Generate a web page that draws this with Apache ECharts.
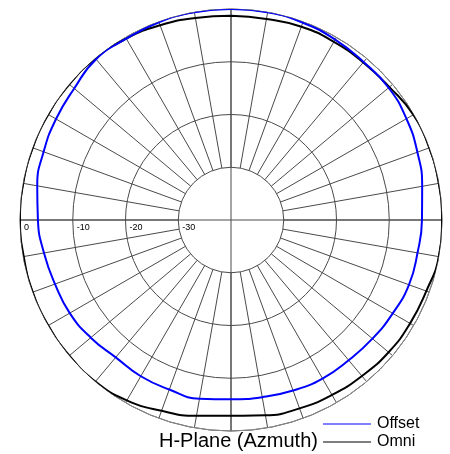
<!DOCTYPE html>
<html>
<head>
<meta charset="utf-8">
<script src="https://cdn.jsdelivr.net/npm/echarts@6/dist/echarts.min.js"></script>
<style>
  html, body { margin: 0; padding: 0; background: #fff; }
  #chart { width: 450px; height: 454px; }
</style>
</head>
<body>
<div id="chart"></div>
<script>
// bearings in degrees, 0 = top, clockwise
var angles = [0, 10, 20, 30, 40, 50, 60, 70, 80, 90, 100, 110, 120, 130, 140, 150, 160, 170,
              180, 190, 200, 210, 220, 230, 240, 250, 260, 270, 280, 290, 300, 310, 320, 330, 340, 350];
// gain in dB
var omni = [-1.3, -1.3, -1.0, -1.0, -1.0, -0.8, -0.1, 0, 0, 0, 0, -0.6, -0.8, -1.0, -1.4, -1.7, -2.0, -2.4,
            -2.9, -2.3, -1.5, -0.5, 0, 0, 0, 0, -0.1, 0, 0, 0, 0, 0, 0, -0.3, -0.7, -1.1];
var offset = [0, 0, -0.2, -0.5, -0.9, -1.0, -1.6, -2.4, -3.2, -3.8, -4.1, -4.1, -4.6, -5.0, -5.3, -5.3, -5.6, -5.9,
              -6.0, -5.6, -5.8, -5.8, -6.0, -5.3, -4.7, -4.5, -4.0, -3.4, -2.7, -2.2, -1.7, -1.2, -0.2, -0.3, -0.1, 0];
var ringLabels = ['-30', '-20', '-10', '0'];

function toPolar(vals) {
    var out = [];
    for (var i = 0; i < angles.length; i++) {
        out.push([vals[i], angles[i]]);
    }
    out.push([vals[0], 360]);
    return out;
}

var gridColor = '#4a4a4a';
var chart = echarts.init(document.getElementById('chart'));

chart.setOption({
    animation: false,
    backgroundColor: '#fff',
    polar: [
        { center: [231, 220], radius: [52.75, 211] },
        { center: [231, 220], radius: [0, 211] }
    ],
    angleAxis: [
        {
            polarIndex: 0, type: 'value', min: 0, max: 360, interval: 10, startAngle: 180,
            axisLine: { show: false }, axisTick: { show: false }, axisLabel: { show: false },
            splitLine: { show: true, lineStyle: { color: gridColor, width: 1 } }
        },
        {
            polarIndex: 1, type: 'value', min: 0, max: 360, interval: 90, startAngle: 90, clockwise: true,
            axisLine: { show: true, lineStyle: { color: '#888', width: 1 } },
            axisTick: { show: false }, axisLabel: { show: false },
            splitLine: { show: true, lineStyle: { color: gridColor, width: 1 } }
        }
    ],
    radiusAxis: [
        {
            polarIndex: 0, type: 'value', min: -30, max: 0, interval: 10,
            axisLine: { show: false }, axisTick: { show: false },
            axisLabel: {
                show: true, fontSize: 9, color: '#000', fontFamily: 'Liberation Sans',
                align: 'left', verticalAlign: 'top', margin: 3, padding: [0, 0, 0, 4],
                formatter: function (v) { return ringLabels[(v + 30) / 10]; }
            },
            splitLine: { show: true, lineStyle: { color: gridColor, width: 1 } }
        },
        {
            polarIndex: 1, type: 'value', min: -40, max: 0,
            axisLine: { show: false }, axisTick: { show: false }, axisLabel: { show: false },
            splitLine: { show: false }
        }
    ],
    title: {
        text: 'H-Plane (Azmuth)',
        left: 159, top: 431,
        padding: 0,
        textStyle: { fontSize: 20, fontWeight: 'normal', color: '#000', fontFamily: 'Liberation Sans' }
    },
    legend: {
        data: ['Offset', 'Omni'],
        orient: 'vertical',
        left: 323, top: 416,
        padding: 0,
        itemGap: 2,
        itemWidth: 48, itemHeight: 1,
        icon: 'rect',
        textStyle: { fontSize: 16, color: '#000', fontFamily: 'Liberation Sans', padding: [0, 0, 0, 1] }
    },
    series: [
        {
            name: 'Omni', type: 'line', coordinateSystem: 'polar', polarIndex: 1,
            data: toPolar(omni), smooth: 0.5, showSymbol: false,
            itemStyle: { color: '#000' },
            lineStyle: { color: '#000', width: 2 }
        },
        {
            name: 'Offset', type: 'line', coordinateSystem: 'polar', polarIndex: 1,
            data: toPolar(offset), smooth: 0.5, showSymbol: false,
            itemStyle: { color: '#0000ff' },
            lineStyle: { color: '#0000ff', width: 2 }
        }
    ]
});
</script>
</body>
</html>
